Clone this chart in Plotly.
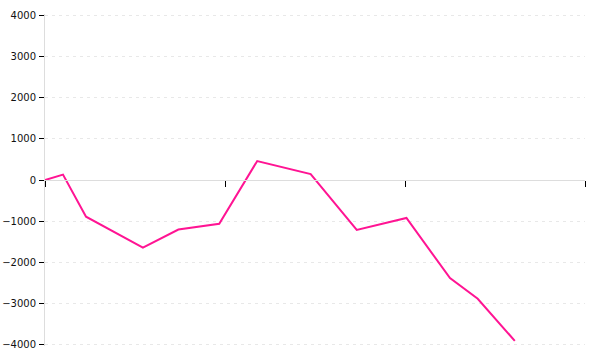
import plotly.graph_objects as go

x_vals = [0, 1.0, 2.28, 5.44, 7.41, 9.68, 11.79, 14.76, 17.32, 20.08, 22.5, 24.04, 26.1]
y_vals = [0, 130, -890, -1640, -1200, -1060, 460, 145, -1210, -920, -2380, -2880, -3900]
x_ticks = [0, 10, 20, 30]
y_ticks = [-4000, -3000, -2000, -1000, 0, 1000, 2000, 3000, 4000]

fig = go.Figure()
fig.add_trace(go.Scatter(x=x_vals, y=y_vals, mode="lines",
                         line=dict(color="#FF1493", width=2), showlegend=False,
                         hoverinfo="skip", cliponaxis=False))

fig.update_layout(
    width=600, height=360,
    margin=dict(l=45, r=15, t=14, b=14, autoexpand=False),
    paper_bgcolor="white", plot_bgcolor="white",
    font=dict(family="DejaVu Sans", size=10, color="#111"),
    xaxis=dict(range=[0, 30], tickvals=x_ticks, showticklabels=False,
               ticks="outside", ticklen=6, tickwidth=1, tickcolor="#000",
               showline=True, linecolor="#dddddd", linewidth=1,
               showgrid=False, zeroline=False, automargin=False,
               anchor="free", position=0.5),
    yaxis=dict(range=[-4025, 4025], tickvals=y_ticks,
               ticks="outside", ticklen=5, tickwidth=1, tickcolor="#000",
               showline=True, linecolor="#dddddd", linewidth=1,
               showgrid=True, gridcolor="#e8e8e8", griddash="3px,4px",
               zeroline=False, automargin=False,
               tickfont=dict(size=10, color="#111"),
               ticklabelstandoff=1),
)

fig.write_html("out.html")
